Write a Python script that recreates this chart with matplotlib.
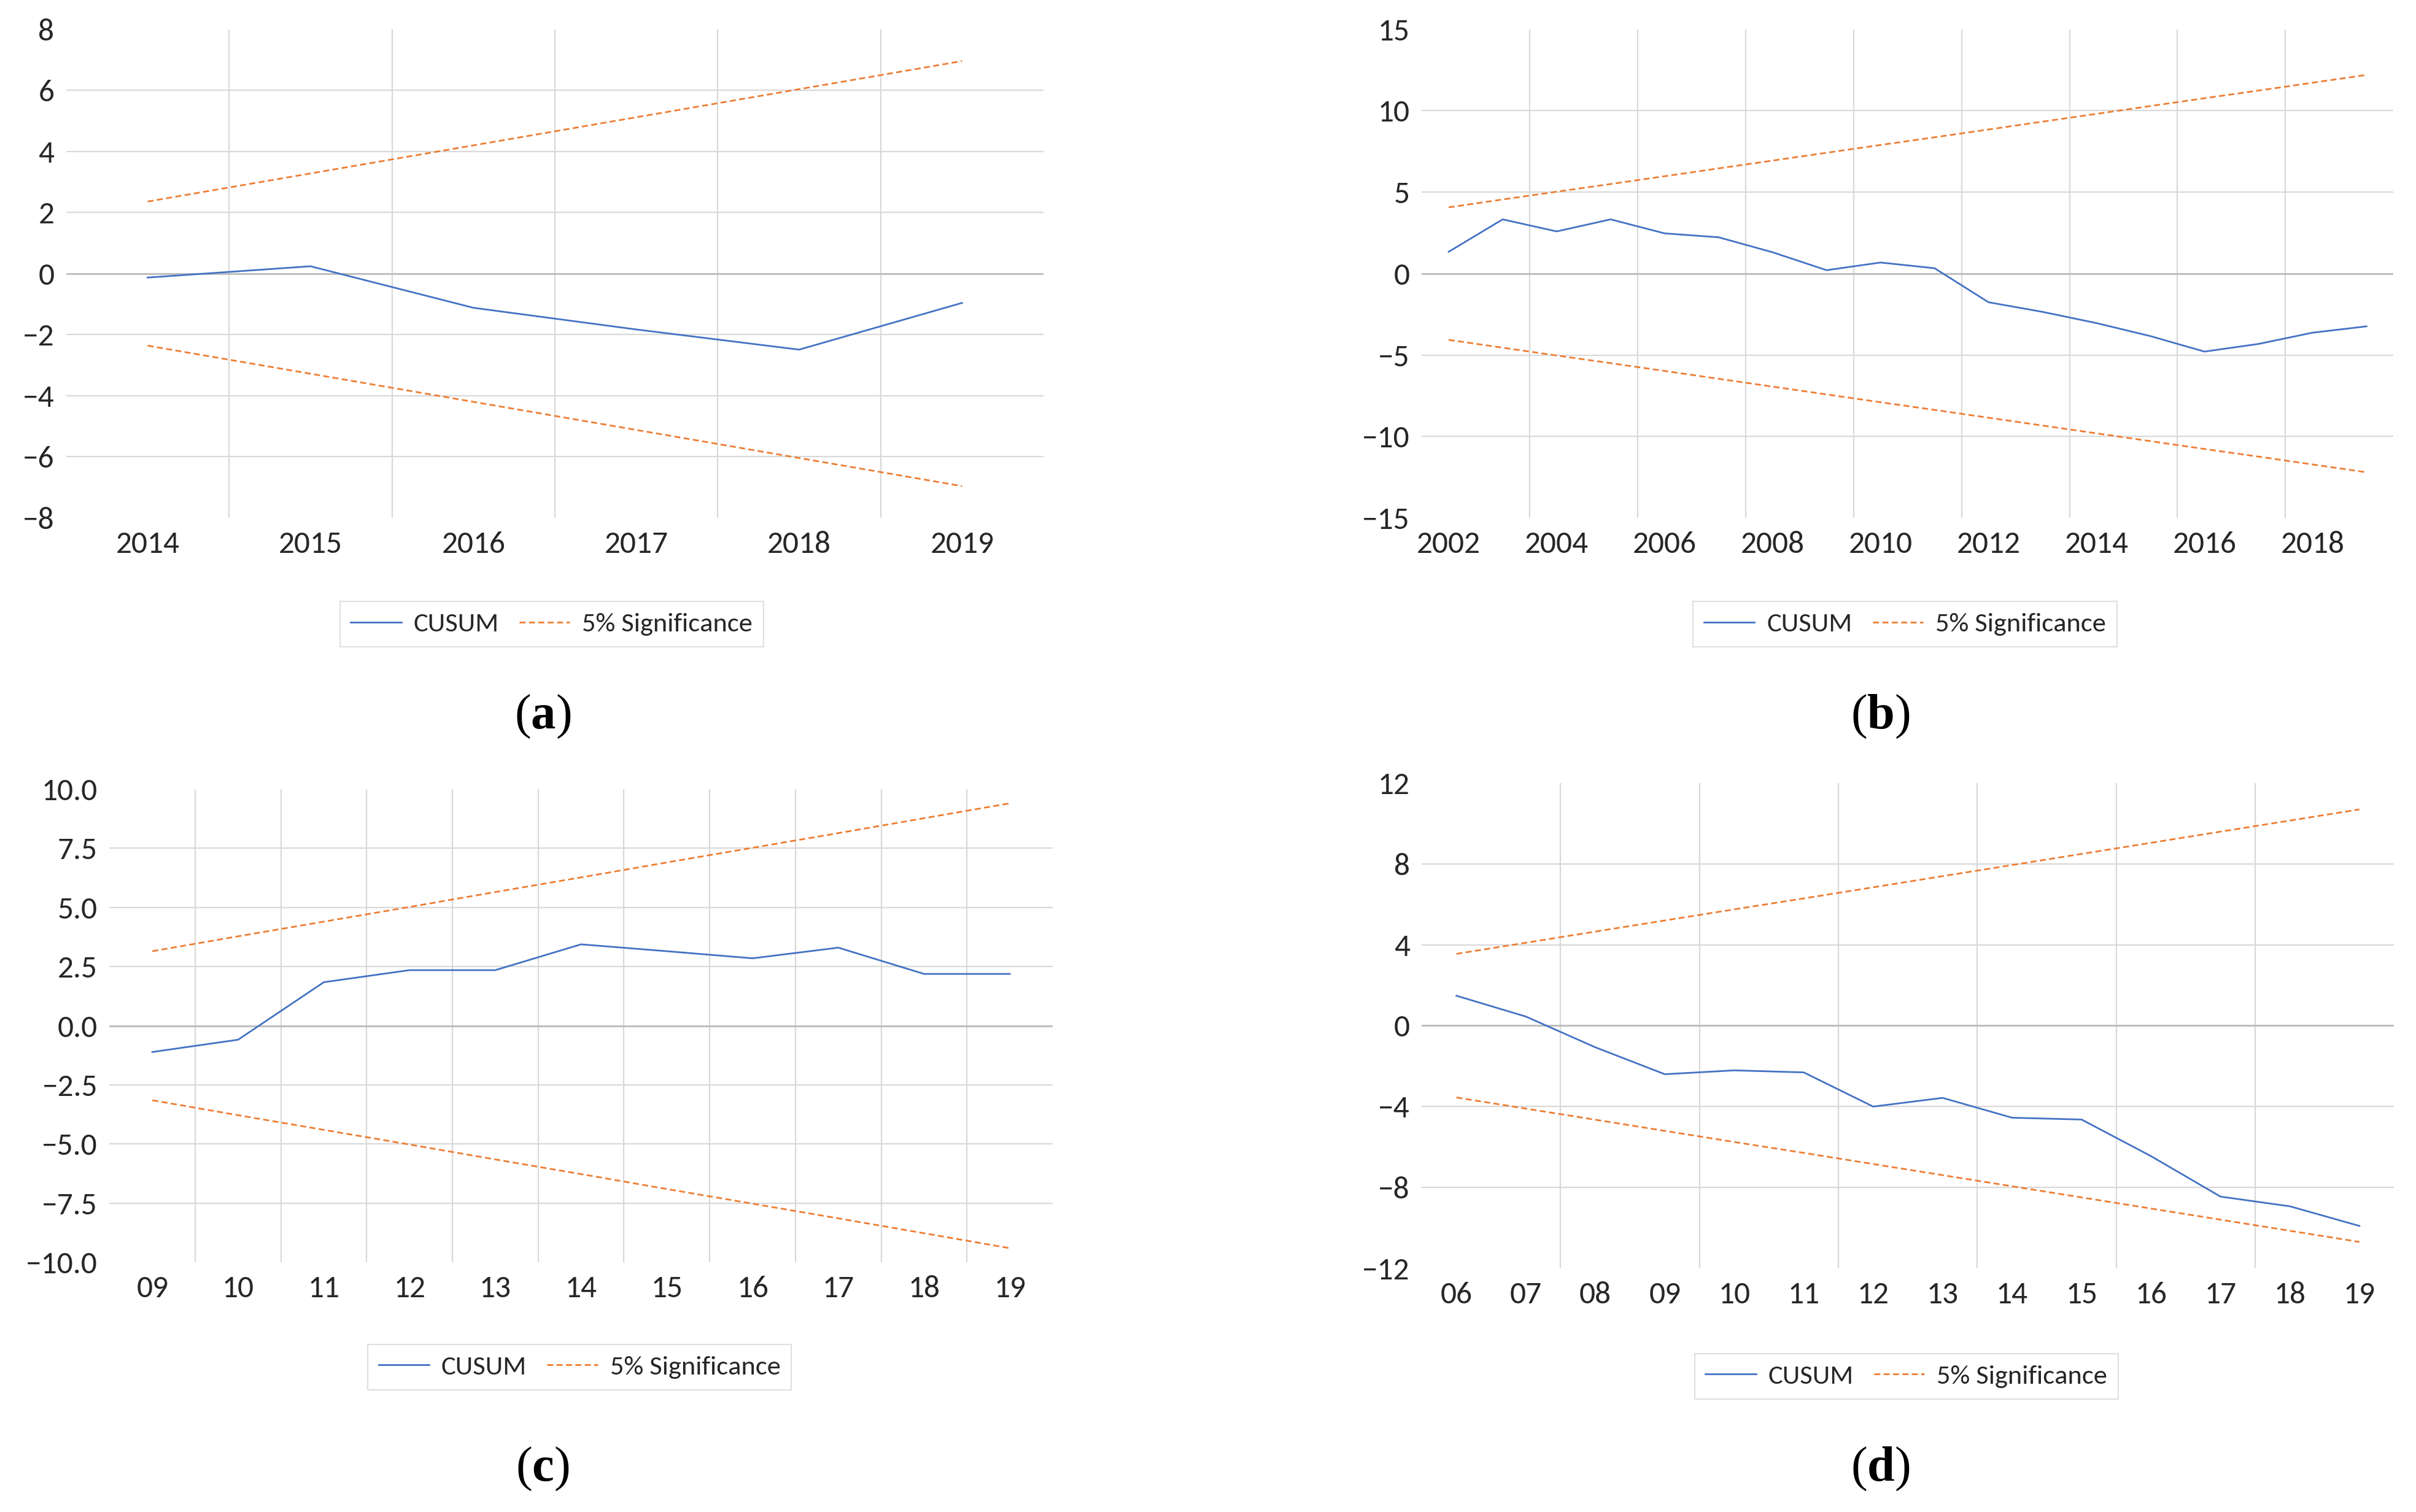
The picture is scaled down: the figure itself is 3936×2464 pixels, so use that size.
import matplotlib
matplotlib.use('Agg')
import matplotlib.pyplot as plt

plt.rcParams['font.family'] = ['Carlito', 'Liberation Sans', 'DejaVu Sans']
plt.rcParams['mathtext.fontset'] = 'custom'
plt.rcParams['mathtext.rm'] = 'Liberation Serif'
plt.rcParams['mathtext.bf'] = 'Liberation Serif:bold'

# (a)
a_cats = ['2014', '2015', '2016', '2017', '2018', '2019']
a_cusum = [-0.13, 0.24, -1.12, -1.83, -2.49, -0.96]
a_upper = [2.36, 3.28, 4.20, 5.12, 6.04, 6.96]
a_lower = [-2.36, -3.28, -4.20, -5.12, -6.04, -6.96]
a_yticks = [-8, -6, -4, -2, 0, 2, 4, 6, 8]

# (b)
b_cats = [str(y) for y in range(2002, 2020)]
b_cusum = [1.34, 3.33, 2.59, 3.33, 2.47, 2.23, 1.31, 0.21, 0.68, 0.33,
           -1.76, -2.35, -3.04, -3.84, -4.79, -4.32, -3.63, -3.24]
b_upper = [4.07, 4.55, 5.03, 5.50, 5.98, 6.46, 6.94, 7.42, 7.90, 8.37,
           8.85, 9.33, 9.81, 10.29, 10.77, 11.24, 11.72, 12.20]
b_lower = [-4.07, -4.55, -5.03, -5.50, -5.98, -6.46, -6.94, -7.42, -7.90, -8.37,
           -8.85, -9.33, -9.81, -10.29, -10.77, -11.24, -11.72, -12.20]
b_yticks = [-15, -10, -5, 0, 5, 10, 15]

# (c)
c_cats = ['09', '10', '11', '12', '13', '14', '15', '16', '17', '18', '19']
c_cusum = [-1.11, -0.59, 1.84, 2.35, 2.35, 3.44, 3.15, 2.85, 3.30, 2.19, 2.19]
c_upper = [3.15, 3.78, 4.40, 5.02, 5.65, 6.27, 6.90, 7.52, 8.14, 8.77, 9.40]
c_lower = [-3.15, -3.78, -4.40, -5.02, -5.65, -6.27, -6.90, -7.52, -8.14, -8.77, -9.40]
c_yticks = [-10, -7.5, -5, -2.5, 0, 2.5, 5, 7.5, 10]

# (d)
d_cats = ['06', '07', '08', '09', '10', '11', '12', '13', '14', '15', '16', '17', '18', '19']
d_cusum = [1.48, 0.45, -1.07, -2.40, -2.21, -2.31, -4.00, -3.57, -4.55, -4.64,
           -6.45, -8.45, -8.93, -9.90]
d_upper = [3.55, 4.10, 4.65, 5.20, 5.75, 6.29, 6.84, 7.39, 7.94, 8.49, 9.04, 9.59, 10.14, 10.69]
d_lower = [-3.55, -4.10, -4.65, -5.20, -5.75, -6.29, -6.84, -7.39, -7.94, -8.49,
           -9.04, -9.59, -10.14, -10.69]
d_yticks = [-12, -8, -4, 0, 4, 8, 12]

BLUE = '#4472C4'
ORANGE = '#ED7D31'
GRID = '#D9D9D9'
TXT = '#262626'


def panel(rect, cats, cusum, upper, lower, yticks, yfmt, vstep, leg_xy, tag, tag_xy):
    ax = fig.add_axes(rect)
    x = list(range(len(cats)))
    n = len(cats)
    ax.set_xlim(-0.5, n - 0.5)
    ax.set_ylim(yticks[0], yticks[-1])
    for s in ax.spines.values():
        s.set_visible(False)

    # gridlines (inner only, like excel)
    for v in yticks[1:-1]:
        if v == 0:
            ax.axhline(0, color='#BFBFBF', lw=2.2, zorder=1)
        else:
            ax.axhline(v, color=GRID, lw=1.6, zorder=0)
    for b in range(vstep, n, vstep):
        ax.axvline(b - 0.5, color=GRID, lw=1.6, zorder=0)

    l1, = ax.plot(x, cusum, color=BLUE, lw=2.0, zorder=3, label='CUSUM')
    l2, = ax.plot(x, upper, color=ORANGE, lw=2.0, dashes=(3.5, 2), zorder=3, label='5% Significance')
    ax.plot(x, lower, color=ORANGE, lw=2.0, dashes=(3.5, 2), zorder=3)

    ax.set_xticks(x)
    if vstep == 2 and n > 15:
        ax.set_xticklabels([c if i % 2 == 0 else '' for i, c in enumerate(cats)])
    else:
        ax.set_xticklabels(cats)
    ax.set_yticks(yticks)
    ax.set_yticklabels([yfmt.format(v).replace('-', '\u2212') for v in yticks])
    ax.tick_params(axis='both', length=0, labelsize=37, colors=TXT)
    ax.tick_params(axis='x', pad=15)
    ax.tick_params(axis='y', pad=14)

    leg = fig.legend(handles=[l1, l2], loc='center', bbox_to_anchor=leg_xy, ncol=2,
                     fontsize=32, frameon=True, fancybox=False, edgecolor=GRID,
                     handlelength=1.85, handletextpad=0.45, columnspacing=0.75,
                     borderpad=0.4)
    leg.get_frame().set_linewidth(1.6)
    for t in leg.get_texts():
        t.set_color(TXT)

    fig.text(tag_xy[0], tag_xy[1], r'$\mathrm{(}\mathbf{' + tag + r'}\mathrm{)}$',
             fontsize=58, ha='center', va='center', color='black')
    return ax


fig = plt.figure(figsize=(39.37, 24.64), dpi=100)

panel([0.0274, 0.6575, 0.4044, 0.3231], a_cats, a_cusum, a_upper, a_lower, a_yticks, '{:g}', 1,
      (0.2283, 0.5872), 'a', (0.2245, 0.526))
panel([0.5883, 0.6575, 0.4021, 0.3231], b_cats, b_cusum, b_upper, b_lower, b_yticks, '{:g}', 2,
      (0.7883, 0.5872), 'b', (0.7781, 0.526))
panel([0.0453, 0.1651, 0.3903, 0.3130], c_cats, c_cusum, c_upper, c_lower, c_yticks, '{:.1f}', 1,
      (0.2398, 0.0958), 'c', (0.2245, 0.0285))
panel([0.5883, 0.1611, 0.4024, 0.3211], d_cats, d_cusum, d_upper, d_lower, d_yticks, '{:g}', 2,
      (0.7889, 0.0897), 'd', (0.7781, 0.0285))

fig.savefig('out.png', dpi=100, facecolor='white')
